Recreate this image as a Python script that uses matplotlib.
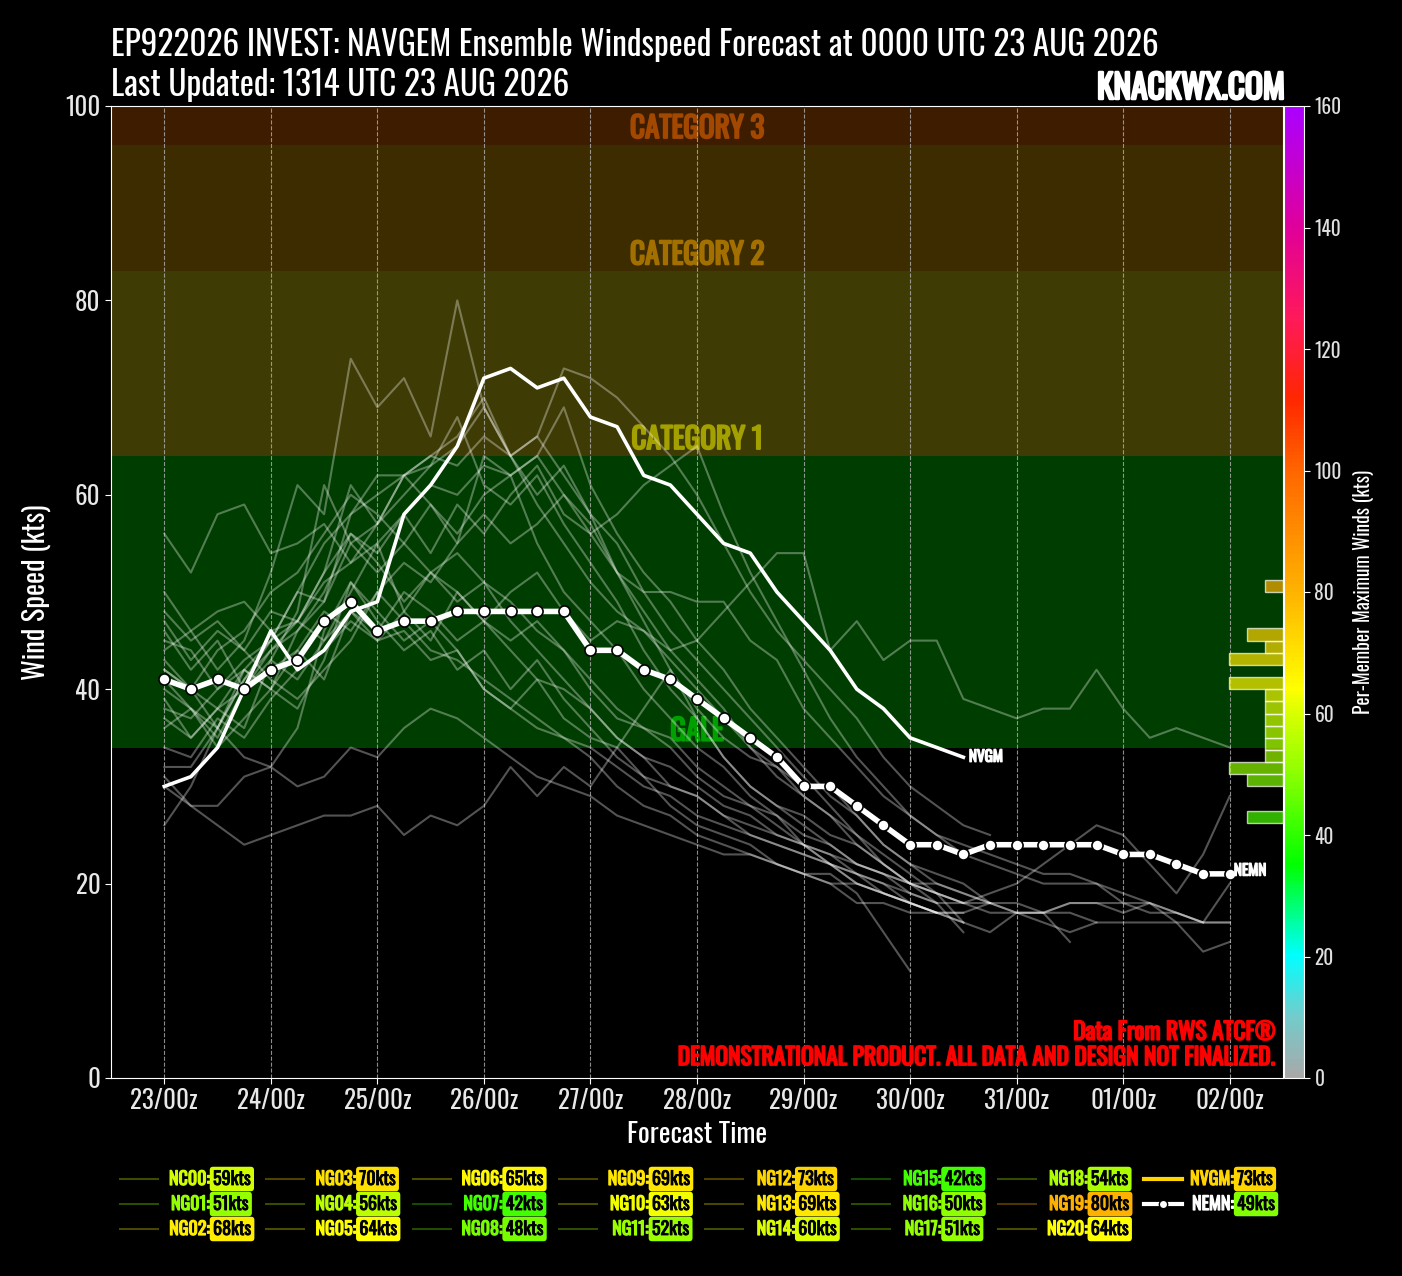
import numpy as np
import matplotlib
matplotlib.use("Agg")
import matplotlib.pyplot as plt
import matplotlib.patheffects as pe
from matplotlib import font_manager
from matplotlib.colors import LinearSegmentedColormap, Normalize
from matplotlib.cm import ScalarMappable
from matplotlib.lines import Line2D
from datetime import datetime, timedelta

# pick a narrow font if we have one
available = {f.name for f in font_manager.fontManager.ttflist}
FONT = "DejaVu Sans"
for cand in ["Oswald", "Liberation Sans Narrow", "Roboto Condensed", "DejaVu Sans"]:
    if cand in available:
        FONT = cand
        break
plt.rcParams["font.family"] = FONT


def heavy(color, w=1.2):
    # fake a heavier weight with a thin stroke of the same colour
    return [pe.Stroke(linewidth=w, foreground=color), pe.Normal()]


# ---- data (kts, 6-hourly from 0000 UTC 23 AUG 2026) ----
nc00 = [56, 52, 58, 59, 54, 55, 57, 53, 55, 48, 45, 50, 47, 44, 41, 40, 38, 35, 33, 30, 29, 27, 25, 24, 23, 22, 20, 19, 18, 17, 17]
ng01 = [41, 38, 34, 37, 40, 38, 43, 51, 47, 44, 46, 42, 44, 40, 43, 39, 36, 33, 31, 28, 26, 25, 24, 22, 21, 21, 19, 15, 11]
ng02 = [45, 44, 40, 43, 45, 50, 49, 58, 62, 62, 63, 68, 61, 59, 62, 57, 53, 49, 44, 40, 37, 33, 30, 28, 27, 25, 24, 22, 20, 19, 18, 17, 17, 16, 15, 16]
ng03 = [40, 38, 36, 41, 44, 47, 51, 53, 57, 62, 64, 66, 70, 64, 60, 63, 58, 55, 50, 46, 43, 40, 37, 34, 31, 28, 25, 23, 21, 19, 16]
ng04 = [46, 42, 45, 40, 44, 46, 50, 56, 53, 49, 52, 50, 47, 45, 47, 44, 40, 37, 36, 34, 31, 29, 28, 26, 24, 23, 21, 20, 18, 17, 17, 18, 17, 17, 18, 18, 17, 18, 17, 16, 20]
ng05 = [39, 35, 38, 36, 43, 48, 61, 55, 52, 55, 59, 55, 64, 62, 55, 50, 47, 44, 40, 37, 34, 32, 29, 27, 24, 22, 20, 19, 18, 17]
ng06 = [36, 38, 35, 40, 42, 44, 48, 46, 50, 53, 51, 55, 58, 55, 57, 60, 56, 58, 61, 63, 65, 58, 52, 47, 42, 37, 33, 30, 27, 25, 24, 23, 22, 21, 21, 20, 18, 17, 17, 16, 16]
ng07 = [31, 28, 26, 24, 25, 26, 27, 27, 28, 25, 27, 26, 28, 32, 29, 32, 30, 34, 38, 42, 37, 33, 30, 28, 26, 24, 22, 21, 20, 19, 18]
ng08 = [26, 30, 36, 42, 40, 44, 41, 48, 45, 46, 43, 44, 40, 38, 41, 37, 35, 34, 31, 30, 29, 27, 26, 25, 24, 23, 22, 21, 20, 20, 19, 18, 18, 17, 17, 16, 16, 16, 16, 16, 16]
ng09 = [42, 40, 38, 42, 40, 46, 49, 55, 57, 60, 63, 65, 69, 64, 59, 55, 51, 48, 46, 43, 40, 37, 34, 32, 29, 27, 25, 22, 20, 18]
ng10 = [32, 32, 36, 41, 45, 47, 45, 50, 55, 58, 54, 59, 56, 60, 63, 58, 56, 52, 47, 42, 38, 35, 33, 32, 30, 30, 27, 24, 22, 21, 20, 18]
ng11 = [34, 33, 37, 35, 39, 42, 44, 47, 45, 48, 52, 49, 51, 47, 44, 41, 38, 35, 33, 32, 30, 28, 27, 25, 24, 22, 21, 20, 19, 18, 18, 19, 20, 22, 24, 26, 25, 22, 19, 23, 29]
ng12 = [38, 37, 40, 42, 45, 50, 55, 58, 60, 62, 64, 63, 66, 64, 66, 73, 72, 70, 67, 64, 60, 55, 50, 46, 43, 40, 37, 33, 30, 28, 26, 25]
ng13 = [47, 43, 46, 44, 48, 47, 52, 56, 54, 58, 61, 60, 63, 62, 64, 69, 61, 56, 52, 49, 45, 42, 38, 35, 32, 29, 27, 24, 22, 20, 19, 18, 17, 17, 14]
ng14 = [43, 40, 44, 46, 50, 52, 56, 60, 58, 55, 52, 54, 51, 49, 46, 44, 41, 38, 36, 35, 32, 30, 28, 27, 25, 24, 22, 21, 19, 18, 15]
ng15 = [42, 40, 36, 33, 32, 30, 31, 34, 33, 36, 38, 37, 35, 33, 31, 30, 29, 27, 26, 25, 24, 23, 23, 22, 21, 20, 20, 19, 18, 17]
ng16 = [48, 45, 47, 44, 41, 39, 42, 45, 50, 47, 44, 43, 41, 39, 37, 35, 34, 32, 30, 29, 27, 26, 25, 24, 23, 22, 21, 19, 18, 17, 16, 15, 17, 17, 18, 18, 18, 18, 16, 13, 14]
ng17 = [30, 28, 28, 31, 32, 36, 46, 51, 48, 45, 47, 44, 40, 38, 36, 35, 33, 30, 28, 27, 25, 24, 23, 22, 21, 20, 18, 18, 17, 17, 16]
ng18 = [37, 35, 38, 40, 43, 41, 45, 48, 46, 50, 48, 45, 47, 50, 52, 48, 45, 47, 46, 44, 45, 48, 51, 54, 54, 44, 47, 43, 45, 45, 39, 38, 37, 38, 38, 42, 38, 35, 36, 35, 34]
ng19 = [44, 46, 42, 45, 52, 61, 58, 74, 69, 72, 66, 80, 69, 64, 66, 62, 58, 52, 48, 44, 41, 38, 34, 31, 29, 27, 24, 22, 20, 19, 18, 18]
ng20 = [50, 46, 48, 49, 46, 47, 52, 61, 57, 62, 59, 56, 60, 62, 64, 60, 57, 52, 50, 50, 49, 49, 45, 43, 38, 35, 32, 29, 27, 25, 23, 22, 21, 20, 20, 20, 19, 18, 17, 16]
nvgm = [30, 31, 34, 40, 46, 42, 44, 48, 49, 58, 61, 65, 72, 73, 71, 72, 68, 67, 62, 61, 58, 55, 54, 50, 47, 44, 40, 38, 35, 34, 33]
nemn = [41, 40, 41, 40, 42, 43, 47, 49, 46, 47, 47, 48, 48, 48, 48, 48, 44, 44, 42, 41, 39, 37, 35, 33, 30, 30, 28, 26, 24, 24, 23, 24, 24, 24, 24, 24, 23, 23, 22, 21, 21]

member_names = ["NC00"] + ["NG%02d" % i for i in range(1, 21)]
members = [nc00, ng01, ng02, ng03, ng04, ng05, ng06, ng07, ng08, ng09, ng10,
           ng11, ng12, ng13, ng14, ng15, ng16, ng17, ng18, ng19, ng20]

init_time = datetime(2026, 8, 23, 0)
tick_hours = np.arange(0, 241, 24)
tick_labels = [(init_time + timedelta(hours=int(h))).strftime("%d/%Hz") for h in tick_hours]

bands = [(0, 34, "#000000", None, None),
         (34, 64, "#003d00", "GALE", "#00a000"),
         (64, 83, "#3e3b04", "CATEGORY 1", "#a3a000"),
         (83, 96, "#3d2c00", "CATEGORY 2", "#a37000"),
         (96, 100, "#3d1c00", "CATEGORY 3", "#a34800")]

# ---- colormap for per-member max winds ----
cmap = LinearSegmentedColormap.from_list("winds", [
    (0.0, (0.66, 0.66, 0.66)),
    (10 / 160, (0.45, 0.80, 0.80)),
    (20 / 160, (0.0, 1.0, 1.0)),
    (35 / 160, (0.0, 1.0, 0.0)),
    (50 / 160, (0.55, 1.0, 0.0)),
    (60 / 160, (0.85, 1.0, 0.0)),
    (64 / 160, (1.0, 1.0, 0.0)),
    (80 / 160, (1.0, 0.70, 0.0)),
    (100 / 160, (1.0, 0.40, 0.0)),
    (112 / 160, (1.0, 0.15, 0.0)),
    (125 / 160, (1.0, 0.10, 0.35)),
    (140 / 160, (0.88, 0.0, 0.60)),
    (1.0, (0.67, 0.0, 1.0))])
norm = Normalize(0, 160)

W, H = 1402, 1276
fig = plt.figure(figsize=(W / 100, H / 100), dpi=100, facecolor="black")
ax_box = [111 / W, 1 - 1078 / H, (1283 - 111) / W, (1078 - 106) / H]
ax = fig.add_axes(ax_box)
ax.set_facecolor("black")

# intensity bands
for lo, hi, col, name, tcol in bands:
    ax.axhspan(lo, hi, color=col, zorder=0, lw=0)
    if name:
        ax.text(120, lo + 0.2, name, ha="center", va="bottom", color=tcol,
                fontsize=21, fontweight="bold", zorder=1, path_effects=heavy(tcol, 1.4))

# members
for vals in members:
    hrs = np.arange(len(vals)) * 6
    ax.plot(hrs, vals, color="white", alpha=0.33, lw=1.5, zorder=3)

# NVGM deterministic
h_nvgm = np.arange(len(nvgm)) * 6
ax.plot(h_nvgm, nvgm, color="white", lw=2.6, zorder=5)
ax.annotate("NVGM", (h_nvgm[-1], nvgm[-1]), xytext=(4, 0), textcoords="offset points",
            ha="left", va="center", color="white", fontsize=11, fontweight="bold", zorder=6,
            path_effects=heavy("white", 1.0))

# ensemble mean
h_nemn = np.arange(len(nemn)) * 6
ax.plot(h_nemn, nemn, color="white", lw=4, marker="o", ms=8, mfc="white",
        mec="black", mew=1.2, zorder=6)
ax.annotate("NEMN", (h_nemn[-1], nemn[-1]), xytext=(3, 2), textcoords="offset points",
            ha="left", va="center", color="white", fontsize=11, fontweight="bold", zorder=6,
            path_effects=heavy("white", 1.0))

ax.set_xlim(-12, 252)
ax.set_ylim(0, 100)
ax.set_xticks(tick_hours)
ax.set_xticklabels(tick_labels)
ax.set_yticks(np.arange(0, 101, 20))
ax.grid(axis="x", color="#b0b0b0", ls="--", lw=0.8, alpha=0.8, zorder=2)
ax.set_axisbelow(False)
ax.tick_params(colors="white", labelsize=18, length=4)
for lbl in ax.get_xticklabels() + ax.get_yticklabels():
    lbl.set_color("#e8e8e8")
for sp in ax.spines.values():
    sp.set_color("white")
ax.set_xlabel("Forecast Time", color="white", fontsize=20, labelpad=5)
ax.set_ylabel("Wind Speed (kts)", color="white", fontsize=20.5, labelpad=10)

ax.text(0.994, 0.047, "Data From RWS ATCF®", transform=ax.transAxes, ha="right",
        va="center", color="red", fontsize=17, fontweight="bold", zorder=7,
        path_effects=heavy("red", 1.2))
ax.text(0.994, 0.021, "DEMONSTRATIONAL PRODUCT. ALL DATA AND DESIGN NOT FINALIZED.",
        transform=ax.transAxes, ha="right", va="center", color="red",
        fontsize=17, fontweight="bold", zorder=7, path_effects=heavy("red", 1.2))

# histogram of per-member maxima (colorbar scale)
max_vals = [max(v) for v in members] + [max(nvgm), max(nemn)]
counts, edges = np.histogram(max_vals, bins=np.arange(0, 162, 2))
hax = fig.add_axes(ax_box, frameon=False)
hax.set_ylim(0, 160)
hax.set_xlim((1283 - 111) / 18, 0)
hax.axis("off")
for c, lo in zip(counts, edges[:-1]):
    if c > 0:
        hax.barh(lo, c, height=2, align="edge", color=cmap(norm(lo + 1)), alpha=0.7,
                 edgecolor=(1, 1, 1, 0.25), lw=1, zorder=4)

# colorbar
cax = fig.add_axes([1284 / W, 1 - 1078 / H, 20 / W, (1078 - 106) / H])
cb = fig.colorbar(ScalarMappable(norm=norm, cmap=cmap), cax=cax, ticks=np.arange(0, 161, 20))
cb.outline.set_edgecolor("white")
cax.tick_params(colors="white", labelsize=14, length=4)
for lbl in cax.get_yticklabels():
    lbl.set_color("#e0e0e0")
cb.set_label("Per-Member Maximum Winds (kts)", color="white", fontsize=14, labelpad=8)

# titles
fig.text(111 / W, 1 - 45 / H, "EP922026 INVEST: NAVGEM Ensemble Windspeed Forecast at 0000 UTC 23 AUG 2026",
         ha="left", va="center", color="white", fontsize=24)
fig.text(111 / W, 1 - 85 / H, "Last Updated: 1314 UTC 23 AUG 2026",
         ha="left", va="center", color="white", fontsize=24)
fig.text(1285 / W, 1 - 88 / H, "KNACKWX.COM", ha="right", va="center", color="white",
         fontsize=24, fontweight="bold", path_effects=heavy("white", 1.8))

# legend, laid out in 8 columns x 3 rows
leg_names = member_names + ["NVGM", "NEMN"]
leg_max = max_vals
for k, (name, mx) in enumerate(zip(leg_names, leg_max)):
    col, row = k // 3, k % 3
    x0 = 120 + col * 146.3
    y0 = 1179 + row * 25
    yf = 1 - y0 / H
    c = cmap(norm(mx))
    if name == "NVGM":
        fig.add_artist(Line2D([x0 / W, (x0 + 38) / W], [yf, yf], color=c, lw=3))
        tcol = c
    elif name == "NEMN":
        fig.add_artist(Line2D([x0 / W, (x0 + 38) / W], [yf, yf], color="white", lw=3))
        fig.add_artist(Line2D([(x0 + 19) / W], [yf], color="white", marker="o", ms=6,
                              mfc="white", mec="black"))
        tcol = "white"
    else:
        fig.add_artist(Line2D([x0 / W, (x0 + 38) / W], [yf, yf], color=c, alpha=0.3, lw=1.5))
        tcol = c
    fig.text((x0 + 90) / W, yf, name + ":", ha="right", va="center", color=tcol,
             fontsize=13, fontweight="bold", path_effects=heavy(tcol, 0.9))
    fig.text((x0 + 93) / W, yf, "%dkts" % mx, ha="left", va="center", color="black",
             fontsize=13, fontweight="bold", path_effects=heavy("black", 0.6),
             bbox=dict(boxstyle="round,pad=0.18", fc=c, ec="none"))

fig.savefig("out.png", dpi=100, facecolor="black")
